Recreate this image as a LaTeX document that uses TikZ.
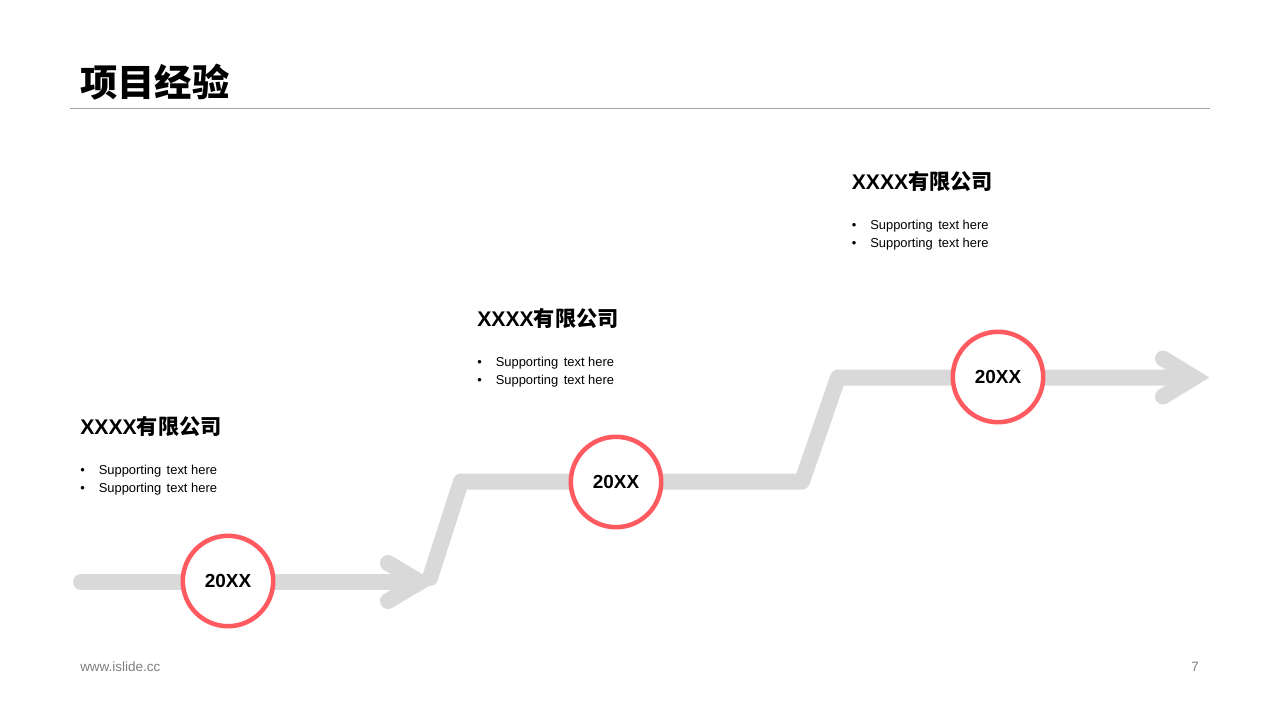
\documentclass[tikz,border=0pt]{standalone}
\usepackage{fontspec}
\setmainfont{Liberation Sans}
\newfontfamily\cjk{Noto Sans CJK SC}
\definecolor{trackgray}{HTML}{D9D9D9}
\definecolor{ringred}{HTML}{FF5A5F}
\definecolor{rulegray}{HTML}{A6A6A6}
\definecolor{footgray}{HTML}{7F7F7F}
\tikzset{
    track/.style={trackgray,line width=12pt,line cap=round,line join=round},
    tracktip/.style={trackgray,line width=12pt,line cap=round,line join=miter},
    ring/.style={circle,draw=ringred,line width=3.4pt,fill=white,minimum size=67.8pt,inner sep=0pt,font=\fontsize{14.2}{16}\selectfont\bfseries},
    company/.style={anchor=west,inner sep=0pt,font=\fontsize{15.9}{18}\selectfont\bfseries},
    bulletline/.style={anchor=west,inner sep=0pt,font=\fontsize{9.7}{12}\selectfont},
    footer/.style={inner sep=0pt,text=footgray,font=\fontsize{10.1}{12}\selectfont}
}
\newcommand{\firm}{XXXX{\cjk 有限公司}}
\newcommand{\support}{Supporting\hspace{0.42em}text here}
\begin{document}
\begin{tikzpicture}[x=0.75pt,y=-0.75pt]
    \useasboundingbox (0,0) rectangle (1280,720);
    \node[anchor=west,inner sep=0pt,font=\fontsize{28}{32}\selectfont\bfseries\cjk] (title) at (80,82) {项目经验};
    \coordinate (ruleL) at (70,108.5);
    \coordinate (ruleR) at (1210,108.5);
    \draw[rulegray,line width=0.75pt] (ruleL) -- (ruleR);
    % arrow track
    \coordinate (start) at (81,582);
    \coordinate (tipA) at (420,582);
    \coordinate (lobeA) at (388,563);
    \coordinate (lobeB) at (388,601);
    \coordinate (kneeA) at (430,578);
    \coordinate (kneeB) at (461,481.5);
    \coordinate (kneeC) at (802,481.5);
    \coordinate (kneeD) at (838,377.5);
    \coordinate (tipB) at (1194,377.5);
    \coordinate (lobeC) at (1163,358.5);
    \coordinate (lobeD) at (1163,396.5);
    \draw[track] (start) -- (tipA);
    \draw[tracktip] (lobeA) -- (tipA) -- (lobeB);
    \draw[track] (kneeA) -- (kneeB) -- (kneeC) -- (kneeD) -- (tipB);
    \draw[tracktip] (lobeC) -- (tipB) -- (lobeD);
    % years
    \node[ring] (yearA) at (228,581) {20XX};
    \node[ring] (yearB) at (616,482) {20XX};
    \node[ring] (yearC) at (998,377) {20XX};
    % text blocks
    \foreach \n/\x/\y in {A/80/426.5,B/477/318.5,C/851.5/181.5}{
        \node[company] (firm\n) at (\x,\y) {\firm};
        \node[bulletline] (dot\n a) at (\x,\y+44.5) {•};
        \node[bulletline] (dot\n b) at (\x,\y+63) {•};
        \node[bulletline] (text\n a) at (\x+18.5,\y+44.5) {\support};
        \node[bulletline] (text\n b) at (\x+18.5,\y+63) {\support};
    }
    \node[footer,anchor=west] (site) at (80,666.5) {www.islide.cc};
    \node[footer,anchor=east] (page) at (1199,666.5) {7};
\end{tikzpicture}
\end{document}
